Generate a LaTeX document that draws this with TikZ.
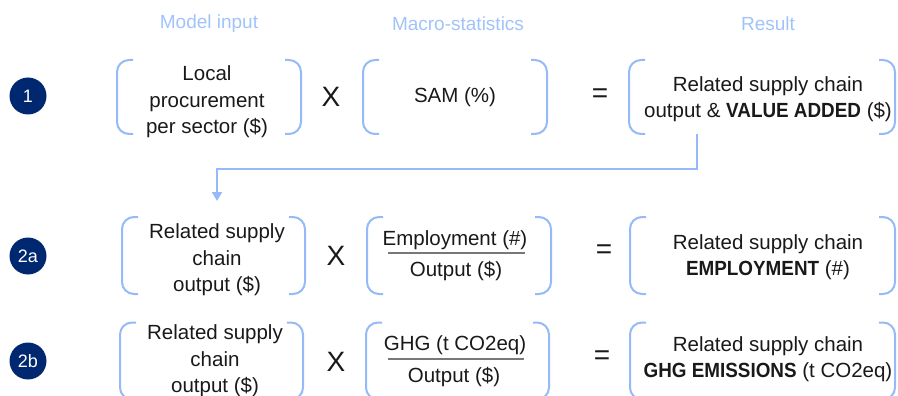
\documentclass[tikz,border=0pt]{standalone}
\usepackage{fontspec}
\setmainfont{Liberation Sans}
\usetikzlibrary{arrows.meta}
\definecolor{navy}{RGB}{0,40,112}
\definecolor{lblue}{RGB}{150,185,248}
\definecolor{hblue}{RGB}{160,195,250}
\definecolor{txt}{RGB}{25,25,25}
\definecolor{fracgray}{RGB}{120,120,120}
\newcommand\caps[1]{{\bfseries\addfontfeature{FakeStretch=0.92}#1}}
\tikzset{
  frame/.style={inner sep=0pt, outer sep=0pt},
  brk/.style={draw=lblue, line width=2pt, rounded corners=12pt},
  body/.style={text=txt, font=\fontsize{20.5}{26.5}\selectfont, align=center, inner sep=0pt},
  head/.style={text=hblue, font=\fontsize{19}{22}\selectfont, inner sep=0pt},
  num/.style={circle, fill=navy, minimum size=37pt, inner sep=0pt, text=white, font=\fontsize{18}{20}\selectfont},
  op/.style={text=txt, font=\fontsize{28}{30}\selectfont, inner sep=0pt},
  conn/.style={draw=lblue, line width=2pt, -{Triangle[width=10pt,length=9pt]}},
  fracline/.style={draw=fracgray, line width=2pt},
}
\newcommand\bracketsof[1]{%
  \draw[brk] ([xshift=16pt]#1.north west) -| (#1.south west) -- ([xshift=16pt]#1.south west);
  \draw[brk] ([xshift=-16pt]#1.north east) -| (#1.south east) -- ([xshift=-16pt]#1.south east);
}
\begin{document}
\begin{tikzpicture}[x=1pt,y=-1pt]
\useasboundingbox (0,0) rectangle (898,396);
\clip (0,0) rectangle (898,396);
% headers
\node[head] (h1) at (209,24) {Model input};
\node[head] (h2) at (458,24) {Macro-statistics};
\node[head] (h3) at (768,24) {Result};
% step circles
\node[num] (c1) at (28,96) {1};
\node[num] (c2) at (28,256) {2a};
\node[num] (c3) at (28,361) {2b};
% row 1
\node[frame, minimum width=184pt, minimum height=74pt] (a1) at (209,97) {};
\node[frame, minimum width=184pt, minimum height=74pt] (b1) at (455,97) {};
\node[frame, minimum width=266pt, minimum height=74pt] (r1) at (762,97) {};
\bracketsof{a1}\bracketsof{b1}\bracketsof{r1}
\node[body] (ta1) at (207,102) {Local\\procurement\\per sector (\$)};
\node[body] (tb1) at (455,97) {SAM (\%)};
\node[body] (tr1) at (768,99) {Related supply chain\\output \& \caps{VALUE ADDED} (\$)};
\node[op] (x1) at (331,97) {X};
\node[op] (e1) at (600,96) {=};
% connector
\coordinate (arrowend) at (217,201);
\draw[conn] ([xshift=-65pt]r1.south) -- ++(0,35) -| (arrowend);
% row 2a
\node[frame, minimum width=183pt, minimum height=77pt] (a2) at (213.5,255.5) {};
\node[frame, minimum width=184pt, minimum height=77pt] (b2) at (459,255.5) {};
\node[frame, minimum width=265pt, minimum height=77pt] (r2) at (762.5,255.5) {};
\bracketsof{a2}\bracketsof{b2}\bracketsof{r2}
\node[body] (ta2) at (217,260) {Related supply\\chain\\output (\$)};
\node[body] (nb2) at (455,240) {Employment (\#)};
\node[body] (db2) at (456,271) {Output (\$)};
\draw[fracline] ([yshift=2.5pt]b2.west -| 388,0) coordinate (f2l) -- (f2l -| 525,0);
\node[body] (tr2) at (768,257) {Related supply chain\\\caps{EMPLOYMENT} (\#)};
\node[op] (x2) at (336,256) {X};
\node[op] (e2) at (604,252) {=};
% row 2b
\node[frame, minimum width=183pt, minimum height=77pt] (a3) at (211.5,361) {};
\node[frame, minimum width=183pt, minimum height=77pt] (b3) at (457.5,361) {};
\node[frame, minimum width=265pt, minimum height=77pt] (r3) at (762.5,361) {};
\bracketsof{a3}\bracketsof{b3}\bracketsof{r3}
\node[body] (ta3) at (215,361) {Related supply\\chain\\output (\$)};
\node[body] (nb3) at (455,345) {GHG (t CO2eq)};
\node[body] (db3) at (454,377) {Output (\$)};
\draw[fracline] ([yshift=2pt]b3.west -| 388,0) coordinate (f3l) -- (f3l -| 524,0);
\node[body] (tr3) at (768,359) {Related supply chain\\\caps{GHG EMISSIONS} (t CO2eq)};
\node[op] (x3) at (336,362) {X};
\node[op] (e3) at (602,358) {=};
\end{tikzpicture}
\end{document}
